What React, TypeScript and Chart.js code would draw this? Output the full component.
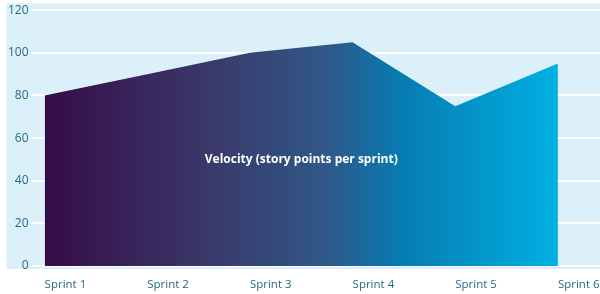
import React, { useEffect, useRef } from "react";
import { Chart, registerables } from "chart.js";

Chart.register(...registerables);

const categories = ["Sprint 1", "Sprint 2", "Sprint 3", "Sprint 4", "Sprint 5", "Sprint 6"];
const velocity = [80, 90, 100, 105, 75, 95];
const yTicks = [0, 20, 40, 60, 80, 100, 120];
const seriesLabel = "Velocity (story points per sprint)";

const FONT = "'Open Sans', 'Noto Sans', sans-serif";

const bgPlugin = {
  id: "bgPlugin",
  beforeDraw(chart: any) {
    const { ctx, chartArea } = chart;
    ctx.save();
    ctx.fillStyle = "#dcf0fa";
    ctx.fillRect(chartArea.left - 38, chartArea.top - 7, chartArea.right - chartArea.left + 38, chartArea.bottom - chartArea.top + 10);
    ctx.restore();
  },
};

const labelPlugin = {
  id: "labelPlugin",
  afterDatasetsDraw(chart: any) {
    const { ctx, scales } = chart;
    const x = (scales.x.getPixelForValue(0) + scales.x.getPixelForValue(categories.length - 1)) / 2;
    const y = scales.y.getPixelForValue(50);
    ctx.save();
    ctx.fillStyle = "#ffffff";
    ctx.font = `bold 12px ${FONT}`;
    ctx.textAlign = "center";
    ctx.textBaseline = "middle";
    ctx.fillText(seriesLabel, x, y);
    ctx.restore();
  },
};

export default function App() {
  const ref = useRef<HTMLCanvasElement>(null);
  useEffect(() => {
    document.body.style.margin = "0";
    const canvas = ref.current!;
    const chart = new Chart(canvas, {
      type: "line",
      data: {
        datasets: [
          {
            label: seriesLabel,
            data: velocity.map((v, i) => ({ x: i, y: v })),
            fill: "origin",
            borderWidth: 0,
            pointRadius: 0,
            tension: 0,
            backgroundColor: (c: any) => {
              const ch = c.chart;
              const { ctx, scales, chartArea } = ch;
              if (!chartArea || !scales.x) return "#360c48";
              const x0 = scales.x.getPixelForValue(0);
              const x1 = scales.x.getPixelForValue(categories.length - 1);
              if (!isFinite(x0) || !isFinite(x1)) return "#360c48";
              const g = ctx.createLinearGradient(x0, 0, x1, 0);
              g.addColorStop(0, "#360c48");
              g.addColorStop(0.33, "#3a3a6b");
              g.addColorStop(0.55, "#2f5888");
              g.addColorStop(0.69, "#077bb0");
              g.addColorStop(1, "#00b0e3");
              return g;
            },
          },
        ],
      },
      options: {
        animation: false,
        responsive: false,
        layout: { padding: { left: 5, top: 10, right: 0, bottom: 0 } },
        plugins: { legend: { display: false }, tooltip: { enabled: false }, title: { display: false } },
        scales: {
          x: {
            type: "linear",
            min: 0,
            max: 5.41,
            afterBuildTicks: (s: any) => {
              s.ticks = categories.map((_, i) => ({ value: i }));
            },
            afterFit: (s: any) => {
              s.height = 28;
              s.paddingRight = 0;
              s.paddingLeft = 0;
            },
            grid: { display: false, drawTicks: false },
            border: { display: false },
            ticks: {
              align: "start",
              padding: 12,
              color: "#2b6a80",
              font: { family: FONT, size: 11.5 },
              maxRotation: 0,
              autoSkip: false,
              callback: (v: any) => (Number.isInteger(v) && categories[v] ? categories[v] : ""),
            },
          },
          y: {
            min: 0,
            max: 120,
            afterBuildTicks: (s: any) => {
              s.ticks = yTicks.map((v) => ({ value: v }));
            },
            grid: { color: "#ffffff", lineWidth: 2, tickLength: 13, drawTicks: true },
            border: { display: false },
            ticks: {
              padding: 3,
              color: "#2b6a80",
              font: { family: FONT, size: 12 },
            },
          },
        },
      },
      plugins: [bgPlugin, labelPlugin],
    });
    return () => chart.destroy();
  }, []);
  return <canvas ref={ref} width={600} height={294} style={{ display: "block" }} />;
}
